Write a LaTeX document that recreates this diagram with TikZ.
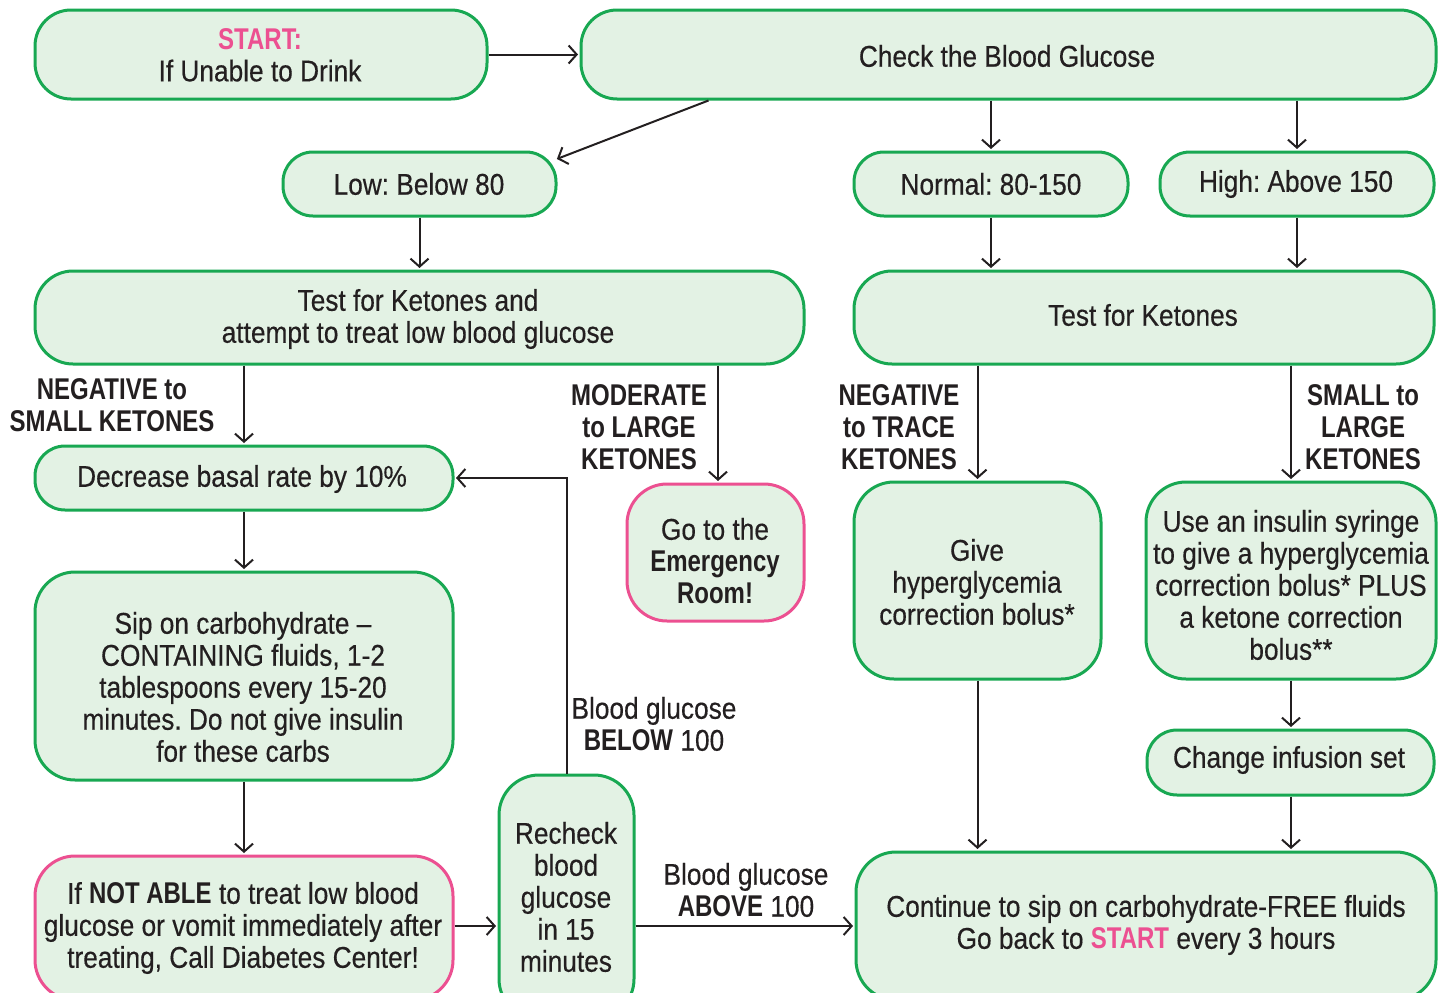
\documentclass[tikz,border=0pt]{standalone}
\usepackage{fontspec}
\setmainfont[FakeStretch=0.875,FakeBold=0.4]{Liberation Sans}
\newfontfamily\boldcond[FakeStretch=0.8]{Liberation Sans}
\newcommand{\mybold}[1]{{\boldcond\bfseries #1}}
\usetikzlibrary{arrows.meta}
\definecolor{gborder}{RGB}{24,168,82}
\definecolor{gfill}{RGB}{227,242,228}
\definecolor{pborder}{RGB}{236,80,145}
\definecolor{ink}{RGB}{35,31,32}
\tikzset{
  box/.style={draw=gborder, fill=gfill, line width=3pt, rounded corners=30pt, inner sep=0pt},
  pbox/.style={box, draw=pborder},
  txt/.style={align=center, text=ink, font=\fontsize{30}{32}\selectfont\frenchspacing, inner sep=0pt},
  lbl/.style={align=center, text=ink, font=\fontsize{30}{32}\selectfont\frenchspacing\boldcond\bfseries, inner sep=0pt},
  arr/.style={draw=ink, line width=2pt, -{Straight Barb[length=8pt,width=18pt]}, shorten >=1.5pt},
}
\begin{document}
\begin{tikzpicture}[x=1pt,y=-1pt]
\useasboundingbox (0,0) rectangle (1446,993);
\clip (0,0) rectangle (1446,993);
% boxes
\node[box, rounded corners=36pt, minimum width=452pt, minimum height=89pt] (start) at (261,54.5) {};
\node[box, rounded corners=36pt, minimum width=855pt, minimum height=89pt] (check) at (1008.5,54.5) {};
\node[box, minimum width=273pt, minimum height=64pt] (low) at (419.5,184) {};
\node[box, minimum width=274pt, minimum height=64pt] (normal) at (991,184) {};
\node[box, minimum width=274pt, minimum height=64pt] (high) at (1297,184) {};
\node[box, rounded corners=38pt, minimum width=769pt, minimum height=93pt] (testL) at (419.5,317.5) {};
\node[box, rounded corners=38pt, minimum width=580pt, minimum height=93pt] (testR) at (1144,317.5) {};
\node[box, minimum width=418pt, minimum height=64pt] (decr) at (244,478) {};
\node[pbox, rounded corners=40pt, minimum width=177pt, minimum height=137pt] (emerg) at (715.5,552.5) {};
\node[box, rounded corners=40pt, minimum width=247pt, minimum height=197pt] (give) at (977.5,580.5) {};
\node[box, rounded corners=40pt, minimum width=290pt, minimum height=197pt] (syr) at (1291,580.5) {};
\node[box, minimum width=287pt, minimum height=65pt] (change) at (1290.5,762.5) {};
\node[box, rounded corners=40pt, minimum width=580pt, minimum height=148pt] (cont) at (1146,926) {};
\node[box, rounded corners=40pt, minimum width=418pt, minimum height=208pt] (sip) at (244,676) {};
\node[pbox, rounded corners=40pt, minimum width=418pt, minimum height=144pt] (notable) at (244,928) {};
\node[box, rounded corners=40pt, minimum width=135pt, minimum height=244pt] (recheck) at (566.5,897) {};
% texts
\node[txt] (startT) at (260,55) {\textcolor{pborder}{\mybold{START:}}\\If Unable to Drink};
\node[txt] (checkT) at (1007,56) {Check the Blood Glucose};
\node[txt] (lowT) at (419,184) {Low: Below 80};
\node[txt] (normalT) at (991,184) {Normal: 80-150};
\node[txt] (highT) at (1296,184) {High: Above 150};
\node[txt] (testLT) at (418,319) {Test for Ketones and\\attempt to treat low blood glucose};
\node[txt] (testRT) at (1143,315) {Test for Ketones};
\node[txt] (decrT) at (242,479) {Decrease basal rate by 10\%};
\node[txt] (emergT) at (715,561) {Go to the\\\mybold{Emergency}\\\mybold{Room!}};
\node[txt] (giveT) at (977,582) {Give\\hyperglycemia\\correction bolus*};
\node[txt] (syrT) at (1291,585) {Use an insulin syringe\\to give a hyperglycemia\\correction bolus* PLUS\\a ketone correction\\bolus**};
\node[txt] (changeT) at (1289,760) {Change infusion set};
\node[txt] (contT) at (1146,925) {Continue to sip on carbohydrate-FREE fluids\\Go back to \textcolor{pborder}{\mybold{START}} every 3 hours};
\node[txt] (sipT) at (243,687) {Sip on carbohydrate --\\CONTAINING fluids, 1-2\\tablespoons every 15-20\\minutes. Do not give insulin\\for these carbs};
\node[txt] (notableT) at (243,928) {If \mybold{NOT ABLE} to treat low blood\\glucose or vomit immediately after\\treating, Call Diabetes Center!};
\node[txt] (recheckT) at (566,897) {Recheck\\blood\\glucose\\in 15\\minutes};
% labels
\node[lbl] (l1) at (112,405) {NEGATIVE to\\SMALL KETONES};
\node[lbl] (l2) at (639,427) {MODERATE\\to LARGE\\KETONES};
\node[lbl] (l3) at (899,427) {NEGATIVE\\to TRACE\\KETONES};
\node[lbl] (l4) at (1363,427) {SMALL to\\LARGE\\KETONES};
\node[txt] (l5) at (654,724) {Blood glucose\\\mybold{BELOW} 100};
\node[txt] (l6) at (746,890) {Blood glucose\\\mybold{ABOVE} 100};
% connectors
\draw[arr] (start.east) -- (check.west);
\draw[arr] ([xshift=-300pt]check.south) -- ([xshift=-2pt,yshift=-9pt]low.north east);
\draw[arr] (check.south -| normal.north) -- (normal.north);
\draw[arr] (check.south -| high.north) -- (high.north);
\draw[arr] (low.south) -- (testL.north -| low.south);
\draw[arr] (normal.south) -- (testR.north -| normal.south);
\draw[arr] (high.south) -- (testR.north -| high.south);
\draw[arr] (testL.south -| decr.north) -- (decr.north);
\draw[arr] (testL.south -| 718,0) -- (emerg.north -| 718,0);
\draw[arr] (testR.south -| give.north) -- (give.north);
\draw[arr] (testR.south -| syr.north) -- (syr.north);
\draw[arr] (syr.south) -- (change.north -| syr.south);
\draw[arr] (give.south) -- (cont.north -| give.south);
\draw[arr] (change.south -| syr.south) -- (cont.north -| syr.south);
\draw[arr] (decr.south) -- (sip.north);
\draw[arr] (sip.south) -- (notable.north);
\draw[arr] (notable.east |- 0,926) -- (recheck.west |- 0,926);
\draw[arr] (recheck.east |- 0,926) -- (cont.west |- 0,926);
\draw[arr] (recheck.north) |- (decr.east);
\end{tikzpicture}
\end{document}
